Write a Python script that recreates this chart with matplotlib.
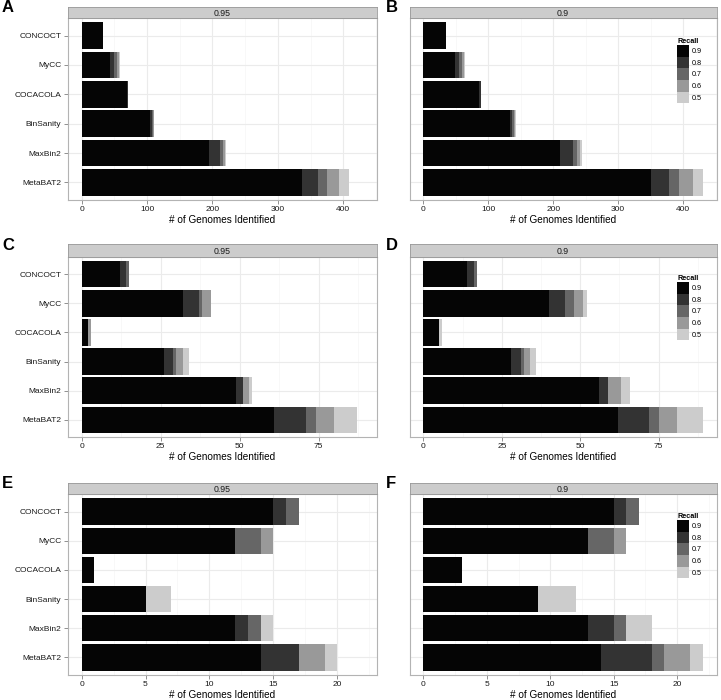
import numpy as np
import matplotlib
matplotlib.use("Agg")
import matplotlib.pyplot as plt
from matplotlib.patches import Patch

plt.rcParams['font.family'] = ['Liberation Sans', 'DejaVu Sans']

methods = ["CONCOCT", "MyCC", "COCACOLA", "BinSanity", "MaxBin2", "MetaBAT2"]
recall = ["0.9", "0.8", "0.7", "0.6", "0.5"]
fills = ["#050505", "#333333", "#666666", "#999999", "#cccccc"]

# counts per method, columns = recall 0.9, 0.8, 0.7, 0.6, 0.5
a_vals = [[32, 0, 0, 0, 0], [43, 7, 4, 3, 2], [70, 1, 0, 0, 0],
          [105, 2, 2, 1, 1], [195, 17, 4, 3, 1], [337, 24, 14, 19, 15]]
b_vals = [[35, 0, 0, 0, 0], [48, 7, 4, 3, 2], [86, 2, 1, 0, 0],
          [133, 3, 3, 2, 2], [211, 20, 6, 4, 3], [350, 28, 15, 22, 15]]
c_vals = [[12, 2, 1, 0, 0], [32, 5, 1, 3, 0], [2, 0, 0, 1, 0],
          [26, 3, 1, 2, 2], [49, 2, 0, 2, 1], [61, 10, 3, 6, 7]]
d_vals = [[14, 2, 1, 0, 0], [40, 5, 3, 3, 1], [5, 0, 0, 0, 1],
          [28, 3, 1, 2, 2], [56, 3, 0, 4, 3], [62, 10, 3, 6, 8]]
e_vals = [[15, 1, 1, 0, 0], [12, 0, 2, 1, 0], [1, 0, 0, 0, 0],
          [5, 0, 0, 0, 2], [12, 1, 1, 0, 1], [14, 3, 0, 2, 1]]
f_vals = [[15, 1, 1, 0, 0], [13, 0, 2, 1, 0], [3, 0, 0, 0, 0],
          [9, 0, 0, 0, 3], [13, 2, 1, 0, 2], [14, 4, 1, 2, 1]]

panels = [("A", "0.95", a_vals), ("B", "0.9", b_vals),
          ("C", "0.95", c_vals), ("D", "0.9", d_vals),
          ("E", "0.95", e_vals), ("F", "0.9", f_vals)]
row_ticks = [[0, 100, 200, 300, 400], [0, 25, 50, 75], [0, 5, 10, 15, 20]]

W, H = 721, 700
fig = plt.figure(figsize=(7.21, 7.0), dpi=100)

cols = [(67.5, 377), (409.5, 716.5)]
rows = [(7, 18, 200), (244, 257, 437), (483, 494, 675)]
leg_top = [0.89, 0.90, 0.895]

for i, (letter, strip, vals) in enumerate(panels):
    r, c = i // 2, i % 2
    x0, x1 = cols[c]
    s0, p0, p1 = rows[r]
    ax = fig.add_axes([x0 / W, 1 - p1 / H, (x1 - x0) / W, (p1 - p0) / H])
    sax = fig.add_axes([x0 / W, 1 - p0 / H, (x1 - x0) / W, (p0 - s0) / H])

    v = np.array(vals)
    ypos = np.arange(len(methods))
    left = np.zeros(len(methods))
    for k in range(len(recall)):
        ax.barh(ypos, v[:, k], left=left, height=0.9, color=fills[k],
                edgecolor='none', zorder=3)
        left += v[:, k]

    # shared x scale within a row, ggplot-style expansion
    row_max = max(np.array(panels[2 * r][2]).sum(1).max(),
                  np.array(panels[2 * r + 1][2]).sum(1).max())
    ax.set_xlim(-0.05 * row_max, 1.05 * row_max)
    ax.set_ylim(len(methods) - 0.4, -0.6)
    ticks = row_ticks[r]
    ax.set_xticks(ticks)
    step = ticks[1] - ticks[0]
    ax.set_xticks([t + step / 2 for t in ticks], minor=True)
    ax.set_yticks(ypos)
    ax.set_facecolor('white')
    ax.grid(True, which='major', color='#ebebeb', lw=0.8, zorder=0)
    ax.grid(True, which='minor', axis='x', color='#f7f7f7', lw=0.6, zorder=0)
    for sp in ax.spines.values():
        sp.set_color('#b3b3b3')
        sp.set_linewidth(0.8)
    ax.tick_params(which='major', length=3, width=0.6, color='#7f7f7f',
                   labelsize=6, labelcolor='#1a1a1a', pad=1.5)
    ax.tick_params(which='minor', length=0)
    if c == 0:
        ax.set_yticklabels(methods)
    else:
        ax.set_yticklabels([])
        ax.tick_params(axis='y', length=0)
    ax.set_xlabel("# of Genomes Identified", fontsize=7.2, labelpad=1.5)

    sax.set_xticks([])
    sax.set_yticks([])
    sax.set_facecolor('#cccccc')
    for sp in sax.spines.values():
        sp.set_color('#999999')
        sp.set_linewidth(0.6)
    sax.text(0.5, 0.45, strip, ha='center', va='center', fontsize=6.3,
             color='#1a1a1a', transform=sax.transAxes)

    lx = 2 if c == 0 else 386
    fig.text(lx / W, 1 - (s0 + 1) / H, letter, fontsize=12, fontweight='bold',
             ha='left', va='center')

    if c == 1:
        handles = [Patch(facecolor=fills[k], edgecolor='none', label=recall[k])
                   for k in range(len(recall))]
        leg = ax.legend(handles=handles, title="Recall", loc='upper left',
                        bbox_to_anchor=(0.872, leg_top[r]),
                        frameon=False, fontsize=5.2, title_fontsize=5.2,
                        handlelength=1.7, handleheight=2.1, labelspacing=0,
                        handletextpad=0.3, borderpad=0, borderaxespad=0)
        leg.get_title().set_fontweight('bold')
        leg._legend_box.align = "left"

fig.savefig("out.png", dpi=100)
